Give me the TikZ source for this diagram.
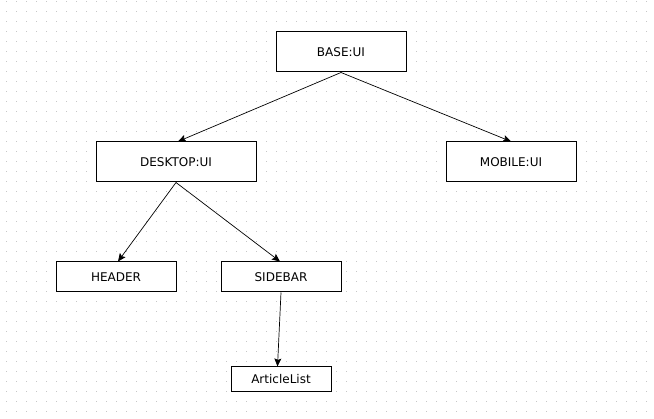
\documentclass[tikz,border=0pt]{standalone}
\usepackage{fontspec}
\setmainfont{DejaVu Sans}
\usetikzlibrary{arrows.meta}
\begin{document}
\begin{tikzpicture}[x=1pt,y=-1pt,
  box/.style={draw=black, line width=1pt, fill=white, inner sep=0pt, font=\fontsize{12}{14}\selectfont},
  conn/.style={draw=black, line width=0.7pt, -{Stealth[length=8pt,width=7pt,inset=1.5pt]}},
  griddot/.style={fill=black!22}]
\useasboundingbox[fill=white] (0,0) rectangle (654,419);
\foreach \gx in {6,16,...,646}{
  \foreach \gy in {2,12,...,412}{
    \fill[griddot] (\gx-0.5,\gy-0.5) rectangle (\gx+0.5,\gy+0.5);
  }
}
\node[box, minimum width=130pt, minimum height=40pt] (base) at (341,52) {BASE:UI};
\node[box, minimum width=160pt, minimum height=40pt] (desktop) at (176,162) {DESKTOP:UI};
\node[box, minimum width=130pt, minimum height=40pt] (mobile) at (511,162) {MOBILE:UI};
\node[box, minimum width=120pt, minimum height=30pt] (header) at (116,277) {HEADER};
\node[box, minimum width=120pt, minimum height=30pt] (sidebar) at (281,277) {SIDEBAR};
\node[box, minimum width=100pt, minimum height=25pt] (article) at (281,379.5) {ArticleList};
\draw[conn] (base.south) -- ([xshift=2pt]desktop.north);
\draw[conn] (base.south) -- (mobile.north);
\draw[conn] (desktop.south) -- ([xshift=2pt]header.north);
\draw[conn] (desktop.south) -- ([xshift=-1pt]sidebar.north);
\draw[conn] (sidebar.south) -- ([xshift=-3.5pt]article.north);
\end{tikzpicture}
\end{document}
